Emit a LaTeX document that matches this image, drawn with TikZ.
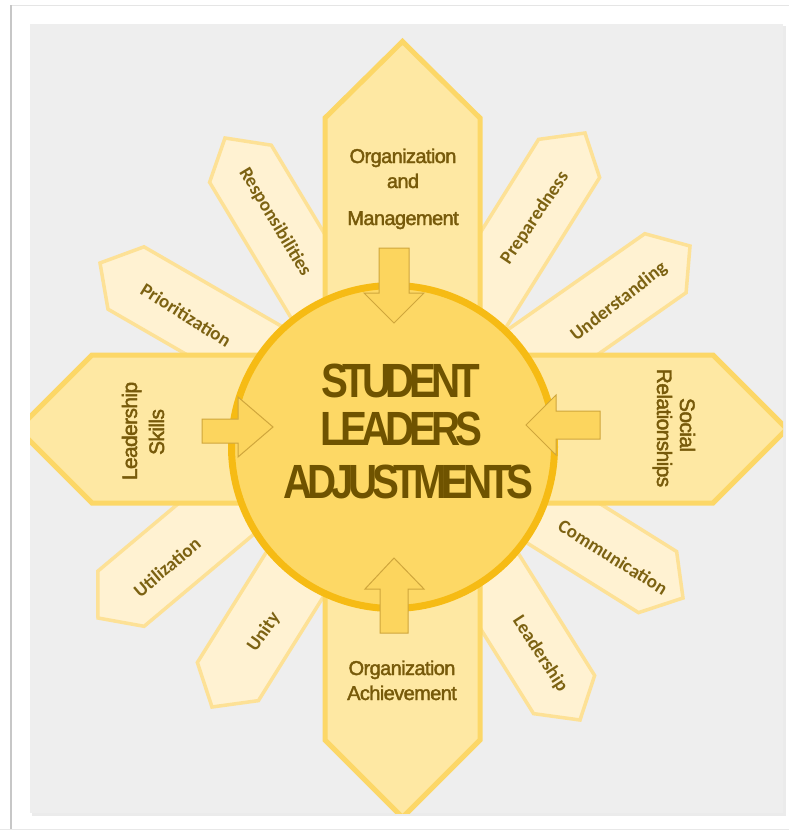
\documentclass[tikz,border=0pt]{standalone}
\usepackage{fontspec}
\usepackage{graphicx}
\setmainfont{Liberation Sans}
\newfontfamily\armfont{Liberation Sans}[LetterSpace=-3, FakeBold=2]
\newfontfamily\hubfont{Liberation Sans}[LetterSpace=-13]
\newfontfamily\petalfont{Carlito}
\definecolor{bggray}{HTML}{EEEEEE}
\definecolor{armfill}{HTML}{FEE8A3}
\definecolor{armline}{HTML}{FCD767}
\definecolor{petalfill}{HTML}{FFF2D2}
\definecolor{petalline}{HTML}{FDE196}
\definecolor{hubfill}{HTML}{FDD865}
\definecolor{hubline}{HTML}{F6BB14}
\definecolor{arrowfill}{HTML}{FCD55E}
\definecolor{arrowline}{HTML}{CFA63C}
\definecolor{textcol}{HTML}{775A0A}
\definecolor{hubtext}{HTML}{6F5300}
\definecolor{petaltextcol}{HTML}{7C6212}
\newcommand\drawpetal[2]{%
  \begin{scope}[shift={#1}, rotate=#2+180]
    \draw[petalshape] (0,0) -- (30,36) -- (290,36) -- (290,-36) -- (30,-36) -- cycle;
  \end{scope}}
\begin{document}
\begin{tikzpicture}[x=1pt,y=-1pt,
  armshape/.style={fill=armfill, draw=armline, line width=5pt, line join=miter},
  petalshape/.style={fill=petalfill, draw=petalline, line width=3.5pt, line join=miter},
  smallarrow/.style={fill=arrowfill, draw=arrowline, line width=1pt, line join=miter},
  armtext/.style={text=textcol, font=\armfont\fontsize{20}{24}\selectfont, inner sep=0pt},
  armtextv/.style={text=textcol, font=\armfont\fontsize{21}{24}\selectfont, inner sep=0pt},
  hubtextstyle/.style={text=hubtext, font=\hubfont\bfseries\fontsize{48}{50}\selectfont, inner sep=0pt, xscale=0.84, transform shape},
  petaltext/.style={text=petaltextcol, font=\petalfont\bfseries\fontsize{19}{22}\selectfont, inner sep=0pt}]
\useasboundingbox (0,0) rectangle (789,830);
% paper
\fill[white] (0,0) rectangle (789,830);
\draw[black!10, line width=1pt] (11,5.5) -- (789,5.5);
\draw[black!22, line width=2pt] (11,5) -- (11,830);
\draw[black!9, line width=1pt] (0,829) -- (789,829);
\fill[black!8] (32,26) rectangle (786,816);
\fill[bggray] (30,24) rectangle (783,813);
\begin{scope}
\clip (30,24) rectangle (783,813);
% petals
\drawpetal{(225,138)}{121}
\drawpetal{(100,263)}{150}
\drawpetal{(585,133)}{58}
\drawpetal{(690,246)}{35}
\drawpetal{(683,598)}{-32}
\drawpetal{(580,720)}{-58}
\drawpetal{(212,707)}{238}
\drawpetal{(98,618)}{220}
% main arms
\draw[armshape] (325,330) -- (325,118) -- (402.5,41.5) -- (480,118) -- (480,330) -- cycle;
\draw[armshape] (325,560) -- (325,740) -- (402.5,817.5) -- (480,740) -- (480,560) -- cycle;
\draw[armshape] (280,355) -- (92,355) -- (18,429) -- (92,503) -- (280,503) -- cycle;
\draw[armshape] (520,355) -- (713,355) -- (787,429) -- (713,503) -- (520,503) -- cycle;
\end{scope}
% hub
\node[circle, minimum size=323pt, inner sep=0pt, fill=hubfill, draw=hubline, line width=7pt] (hub) at (393,447) {};
% small arrows
\draw[smallarrow] (379,248) -- (409,248) -- (409,293) -- (424,293) -- (394,323) -- (364,293) -- (379,293) -- cycle;
\draw[smallarrow] (380,633) -- (408,633) -- (408,589) -- (424,589) -- (394,558) -- (365,589) -- (380,589) -- cycle;
\draw[smallarrow] (202,419) -- (238,419) -- (238,397) -- (273,427) -- (238,457) -- (238,443) -- (202,443) -- cycle;
\draw[smallarrow] (600,411) -- (556,411) -- (556,395) -- (526,425) -- (556,455) -- (556,439) -- (600,439) -- cycle;
% hub text
\node[hubtextstyle, anchor=base] (h1) at (400.5,397) {STUDENT};
\node[hubtextstyle, anchor=base] (h2) at (401.5,445) {LEADERS};
\node[hubtextstyle, anchor=base] (h3) at (408.5,498) {ADJUSTMENTS};
% arm texts
\node[armtext, anchor=base] (t1) at (403,163) {Organization};
\node[armtext, anchor=base] (t2) at (403,188) {and};
\node[armtext, anchor=base] (t3) at (403,225) {Management};
\node[armtext, anchor=base] (b1) at (402,675) {Organization};
\node[armtext, anchor=base] (b2) at (402,700) {Achievement};
\node[armtextv, anchor=base, rotate=90] (l1) at (137,431) {Leadership};
\node[armtextv, anchor=base, rotate=90] (l2) at (164,432) {Skills};
\node[armtextv, anchor=base, rotate=-90] (r1) at (680,425) {Social};
\node[armtextv, anchor=base, rotate=-90] (r2) at (657,428) {Relationships};
% petal texts
\node[petaltext, rotate=-59] (p1) at (275,222) {Responsibilities};
\node[petaltext, rotate=-32] (p2) at (186,315) {Prioritization};
\node[petaltext, rotate=56] (p3) at (535,218) {Preparedness};
\node[petaltext, rotate=38] (p4) at (619,302) {Understanding};
\node[petaltext, rotate=-32] (p5) at (613,557) {Communication};
\node[petaltext, rotate=-57] (p6) at (540,654) {Leadership};
\node[petaltext, rotate=55] (p7) at (264,632) {Unity};
\node[petaltext, rotate=40] (p8) at (167,567) {Utilization};
\end{tikzpicture}
\end{document}
